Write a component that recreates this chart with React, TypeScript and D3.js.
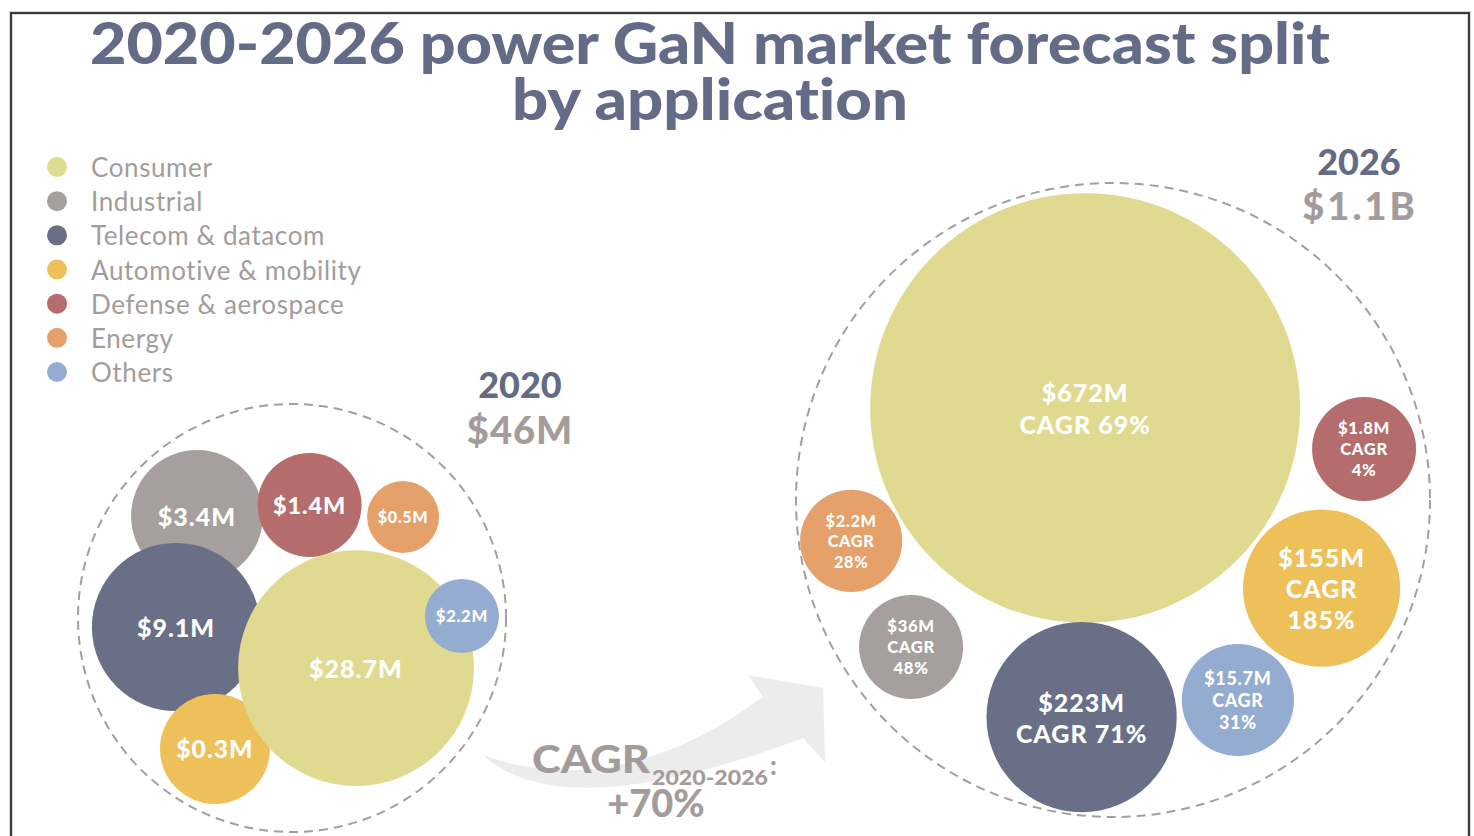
import React from "react";
import * as d3 from "d3";

// ---------- data ----------
const categories = [
  "Consumer",
  "Industrial",
  "Telecom & datacom",
  "Automotive & mobility",
  "Defense & aerospace",
  "Energy",
  "Others",
];
const colors = ["#e0da90", "#a69f9d", "#686f87", "#eec05a", "#b46c6c", "#e6a06a", "#93acd0"];
const values2020 = ["$28.7M", "$3.4M", "$9.1M", "$0.3M", "$1.4M", "$0.5M", "$2.2M"];
const values2026 = ["$672M", "$36M", "$223M", "$155M", "$1.8M", "$2.2M", "$15.7M"];
const cagr = ["69%", "48%", "71%", "185%", "4%", "28%", "31%"];
const years = ["2020", "2026"];
const totals = ["$46M", "$1.1B"];
const overallCagr = "+70%";

// relative bubble placement inside each cluster (unit circle space) : [x, y, r]
const layout2020 = [
  [0.299, 0.234, 0.551],
  [-0.444, -0.477, 0.308],
  [-0.542, 0.042, 0.393],
  [-0.36, 0.612, 0.257],
  [0.082, -0.528, 0.243],
  [0.519, -0.472, 0.168],
  [0.794, -0.009, 0.173],
];
const layout2026 = [
  [-0.088, -0.29, 0.678],
  [-0.637, 0.464, 0.164],
  [-0.099, 0.685, 0.3],
  [0.658, 0.278, 0.248],
  [0.792, -0.161, 0.164],
  [-0.826, 0.129, 0.161],
  [0.394, 0.631, 0.177],
];
// draw order (back to front)
const order2020 = [1, 4, 5, 2, 3, 0, 6];
const order2026 = [0, 1, 2, 3, 4, 5, 6];

const FONT = "Lato, 'Open Sans', 'DejaVu Sans', sans-serif";
const TITLE_C = "#646b86";
const TAUPE = "#a39c9b";

type Cluster = { cx: number; cy: number; R: number };

function Bubbles({
  cluster,
  layout,
  order,
  lines,
  fontFactor,
  maxFont,
}: {
  cluster: Cluster;
  layout: number[][];
  order: number[];
  lines: string[][];
  fontFactor: number;
  maxFont: number;
}) {
  const x = d3.scaleLinear().domain([-1, 1]).range([cluster.cx - cluster.R, cluster.cx + cluster.R]);
  const y = d3.scaleLinear().domain([-1, 1]).range([cluster.cy - cluster.R, cluster.cy + cluster.R]);
  const r = d3.scaleLinear().domain([0, 1]).range([0, cluster.R]);
  return (
    <g>
      <circle
        cx={x(0)}
        cy={y(0)}
        r={r(1)}
        fill="none"
        stroke="#a49e9d"
        strokeWidth={2}
        strokeDasharray="9 6"
      />
      {order.map((i) => (
        <circle key={"c" + i} cx={x(layout[i][0])} cy={y(layout[i][1])} r={r(layout[i][2])} fill={colors[i]} />
      ))}
      {order.map((i) => {
        const rad = r(layout[i][2]);
        const fs = Math.min(maxFont, rad * fontFactor);
        const ls = lines[i];
        const lh = fs * 1.25;
        const y0 = y(layout[i][1]) - ((ls.length - 1) * lh) / 2;
        return (
          <text
            key={"t" + i}
            x={x(layout[i][0])}
            textAnchor="middle"
            fill="#ffffff"
            fontFamily={FONT}
            fontWeight={900}
            fontSize={fs}
            letterSpacing={fs * 0.04}
          >
            {ls.map((l, k) => (
              <tspan key={k} x={x(layout[i][0])} y={y0 + k * lh} dominantBaseline="central">
                {l}
              </tspan>
            ))}
          </text>
        );
      })}
    </g>
  );
}

export default function App() {
  const W = 1474;
  const H = 836;
  const c2020: Cluster = { cx: 292, cy: 618, R: 214 };
  const c2026: Cluster = { cx: 1113, cy: 500, R: 317 };

  const lines2020 = values2020.map((v) => [v]);
  const lines2026 = values2026.map((v, i) =>
    layout2026[i][2] > 0.25 ? [v, "CAGR " + cagr[i]] : [v, "CAGR", cagr[i]]
  );

  const legendY = d3.scalePoint().domain(categories).range([167, 372]);

  return (
    <svg
      width={W}
      height={H}
      style={{ position: "absolute", left: 0, top: 0, background: "#fff", fontVariantLigatures: "none" }}
    >
      <rect width={W} height={H} fill="#fff" />
      {/* frame */}
      <path d="M11,840 V13 H1469 V840" fill="none" stroke="#d8d8d8" strokeWidth={4} />
      <path d="M11,840 V13 H1469 V840" fill="none" stroke="#3a3a3a" strokeWidth={2} />

      {/* title */}
      <text
        x={710}
        y={64}
        textAnchor="middle"
        fill={TITLE_C}
        fontFamily={FONT}
        fontWeight={900}
        fontSize={58}
        textLength={1240}
        lengthAdjust="spacingAndGlyphs"
      >
        2020-2026 power GaN market forecast split
      </text>
      <text
        x={710}
        y={120}
        textAnchor="middle"
        fill={TITLE_C}
        fontFamily={FONT}
        fontWeight={900}
        fontSize={58}
        textLength={396}
        lengthAdjust="spacingAndGlyphs"
      >
        by application
      </text>

      {/* legend */}
      {categories.map((c, i) => (
        <g key={c}>
          <circle cx={57} cy={legendY(c)} r={10} fill={colors[i]} />
          <text
            x={91}
            y={legendY(c)}
            dominantBaseline="central"
            fill={TAUPE}
            fontFamily={FONT}
            fontSize={26}
            letterSpacing={0.6}
          >
            {c}
          </text>
        </g>
      ))}

      {/* growth arrow */}
      <path
        d="M483,755 Q617,804 763,697 L748,675 L823,688 L825,762 L803,738 Q563,828 483,755 Z"
        fill="#ececec"
      />

      {/* clusters */}
      <Bubbles cluster={c2020} layout={layout2020} order={order2020} lines={lines2020} fontFactor={0.45} maxFont={25} />
      <Bubbles cluster={c2026} layout={layout2026} order={order2026} lines={lines2026} fontFactor={0.32} maxFont={25} />

      {/* year labels */}
      <text x={520} y={398} textAnchor="middle" fill={TITLE_C} fontFamily={FONT} fontWeight={900} fontSize={36}>
        {years[0]}
      </text>
      <text x={520} y={444} textAnchor="middle" fill={TAUPE} fontFamily={FONT} fontWeight={900} fontSize={38} letterSpacing={1}>
        {totals[0]}
      </text>
      <text x={1359} y={175} textAnchor="middle" fill={TITLE_C} fontFamily={FONT} fontWeight={900} fontSize={36}>
        {years[1]}
      </text>
      <text x={1360} y={220} textAnchor="middle" fill={TAUPE} fontFamily={FONT} fontWeight={900} fontSize={38} letterSpacing={3}>
        {totals[1]}
      </text>

      {/* CAGR annotation */}
      <text x={532} y={773} fill={TAUPE} fontFamily={FONT} fontWeight={900} fontSize={38} textLength={118} lengthAdjust="spacingAndGlyphs">
        CAGR
      </text>
      <text x={652} y={785} fill={TAUPE} fontFamily={FONT} fontWeight={900} fontSize={20} textLength={116} lengthAdjust="spacingAndGlyphs">
        {years[0] + "-" + years[1]}
      </text>
      <text x={770} y={775} fill={TAUPE} fontFamily={FONT} fontWeight={900} fontSize={26}>
        :
      </text>
      <text x={656} y={817} textAnchor="middle" fill={TAUPE} fontFamily={FONT} fontWeight={900} fontSize={38}>
        {overallCagr}
      </text>
    </svg>
  );
}
